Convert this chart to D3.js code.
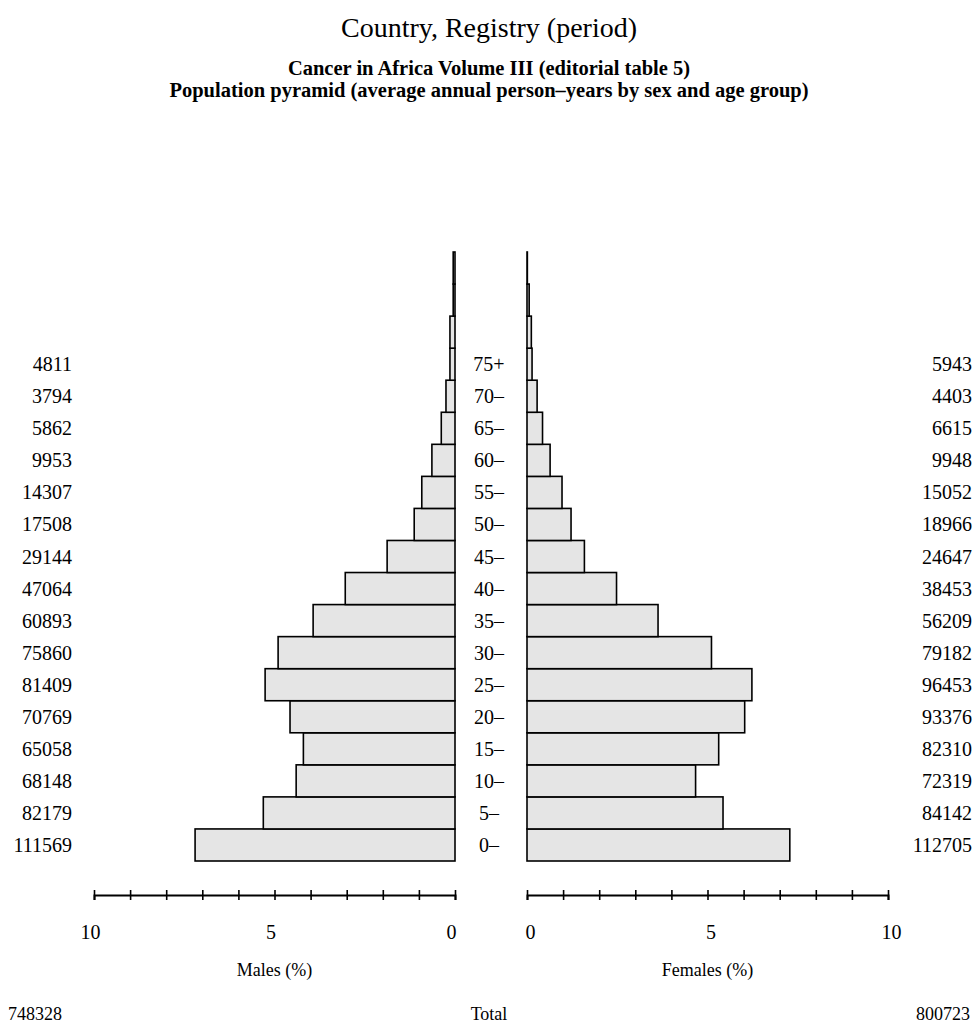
<!DOCTYPE html>
<html>
<head>
<meta charset="utf-8">
<script src="https://cdn.jsdelivr.net/npm/d3@7"></script>
<style>
  html, body { margin: 0; padding: 0; background: #fff; }
  svg { display: block; }
  text { font-family: "Liberation Serif", "Times New Roman", serif; fill: #000; }
</style>
</head>
<body>
<svg id="chart" width="978" height="1026"></svg>
<script>
// ---------------- data ----------------
const title = "Country, Registry (period)";
const subtitle1 = "Cancer in Africa Volume III (editorial table 5)";
const subtitle2 = "Population pyramid (average annual person\u2013years by sex and age group)";

const ageLabels = ["0\u2013","5\u2013","10\u2013","15\u2013","20\u2013","25\u2013","30\u2013","35\u2013",
                   "40\u2013","45\u2013","50\u2013","55\u2013","60\u2013","65\u2013","70\u2013","75+"];
const maleCounts   = [111569, 82179, 68148, 65058, 70769, 81409, 75860, 60893,
                      47064, 29144, 17508, 14307, 9953, 5862, 3794, 4811];
const femaleCounts = [112705, 84142, 72319, 82310, 93376, 96453, 79182, 56209,
                      38453, 24647, 18966, 15052, 9948, 6615, 4403, 5943];
const maleTotal = 748328;
const femaleTotal = 800723;

// bar rows (five-year groups, the oldest ones drawn without labels)
const barGroups = ["0","5","10","15","20","25","30","35","40","45","50","55","60","65","70","75","80","85","90"];
// % of total person-years (both sexes)
const malePct   = [7.20, 5.31, 4.40, 4.20, 4.57, 5.26, 4.90, 3.93, 3.04, 1.88, 1.13, 0.92, 0.64, 0.38, 0.25, 0.14, 0.14, 0.05, 0.05];
const femalePct = [7.28, 5.43, 4.67, 5.31, 6.03, 6.23, 5.11, 3.63, 2.48, 1.59, 1.22, 0.97, 0.64, 0.43, 0.28, 0.14, 0.12, 0.06, 0.01];

const axisTicks = [0,1,2,3,4,5,6,7,8,9,10];
const axisLabelTicks = [0,5,10];

// ---------------- layout ----------------
const svg = d3.select("#chart");
const W = 978;
const rowsTop = 252, rowsBottom = 861;
const maleLeft = 94, maleRight = 455, femLeft = 527, femRight = 888;
const axisY = 895;

const xM = d3.scaleLinear().domain([10, 0]).range([maleLeft, maleRight]);
const xF = d3.scaleLinear().domain([0, 10]).range([femLeft, femRight]);
const y = d3.scaleBand().domain(barGroups.slice().reverse()).range([rowsTop, rowsBottom]).padding(0);

// titles
svg.append("text").attr("x", W/2).attr("y", 37).attr("text-anchor","middle")
   .style("font-size","28px").text(title);
svg.append("text").attr("x", W/2).attr("y", 75).attr("text-anchor","middle")
   .style("font-size","20.5px").style("font-weight","bold").text(subtitle1);
svg.append("text").attr("x", W/2).attr("y", 97).attr("text-anchor","middle")
   .style("font-size","20.5px").style("font-weight","bold").text(subtitle2);

// bars
const rows = barGroups.map((g,i) => ({g, m: malePct[i], f: femalePct[i]}));
svg.append("g").selectAll("rect").data(rows).join("rect")
   .attr("x", d => xM(d.m)).attr("y", d => y(d.g))
   .attr("width", d => xM(0) - xM(d.m)).attr("height", y.bandwidth())
   .attr("fill", "#e5e5e5").attr("stroke", "#000").attr("stroke-width", 1.6);
svg.append("g").selectAll("rect").data(rows).join("rect")
   .attr("x", xF(0)).attr("y", d => y(d.g))
   .attr("width", d => xF(d.f) - xF(0)).attr("height", y.bandwidth())
   .attr("fill", "#e5e5e5").attr("stroke", "#000").attr("stroke-width", 1.6);

// labels: age group, counts
const labRows = ageLabels.map((a,i) => ({a, g: barGroups[i], m: maleCounts[i], f: femaleCounts[i]}));
const lab = svg.append("g").style("font-size","20px");
lab.selectAll(".age").data(labRows).join("text").attr("class","age")
   .attr("x", (femLeft + maleRight)/2 - 2).attr("y", d => y(d.g) + y.bandwidth()/2)
   .attr("dy","0.35em").attr("text-anchor","middle").text(d => d.a);
lab.selectAll(".mc").data(labRows).join("text").attr("class","mc")
   .attr("x", 72).attr("y", d => y(d.g) + y.bandwidth()/2)
   .attr("dy","0.35em").attr("text-anchor","end").text(d => d.m);
lab.selectAll(".fc").data(labRows).join("text").attr("class","fc")
   .attr("x", 972).attr("y", d => y(d.g) + y.bandwidth()/2)
   .attr("dy","0.35em").attr("text-anchor","end").text(d => d.f);

// axes
function drawAxis(scale, dx) {
  const g = svg.append("g").attr("transform", `translate(0,${axisY})`)
    .call(d3.axisBottom(scale).tickValues(axisTicks).tickSizeOuter(0).tickSize(5)
          .tickFormat(d => axisLabelTicks.includes(d) ? d : ""));
  g.select(".domain").attr("stroke","#000").attr("stroke-width",2);
  g.selectAll(".tick line").attr("y1",-5).attr("y2",5).attr("stroke","#000").attr("stroke-width",1.6);
  g.selectAll(".tick text").attr("y", 30).attr("dx", dx)
   .style("font-size","20px").style("font-family","Liberation Serif, serif").attr("fill","#000");
}
drawAxis(xM, -4);
drawAxis(xF, 3);

// axis titles
svg.append("text").attr("x", xM(5)).attr("y", 976).attr("text-anchor","middle")
   .style("font-size","18px").text("Males (%)");
svg.append("text").attr("x", xF(5)).attr("y", 976).attr("text-anchor","middle")
   .style("font-size","18px").text("Females (%)");

// totals
svg.append("text").attr("x", 8).attr("y", 1020).style("font-size","18px").text(maleTotal);
svg.append("text").attr("x", W/2).attr("y", 1020).attr("text-anchor","middle").style("font-size","18px").text("Total");
svg.append("text").attr("x", 970).attr("y", 1020).attr("text-anchor","end").style("font-size","18px").text(femaleTotal);
</script>
</body>
</html>
